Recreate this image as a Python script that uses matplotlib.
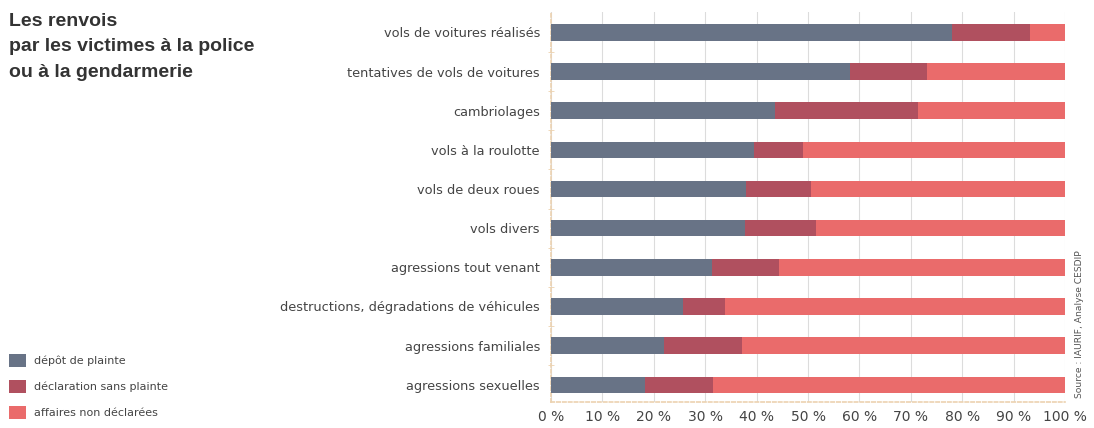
import matplotlib
matplotlib.use('Agg')
import matplotlib.pyplot as plt
import numpy as np

# Data (percent of cases)
categories = [
    'vols de voitures réalisés',
    'tentatives de vols de voitures',
    'cambriolages',
    'vols à la roulotte',
    'vols de deux roues',
    'vols divers',
    'agressions tout venant',
    'destructions, dégradations de véhicules',
    'agressions familiales',
    'agressions sexuelles',
]
depot_plainte = [78.0, 58.2, 43.5, 39.5, 37.9, 37.7, 31.4, 25.7, 21.9, 18.3]
declaration_sans_plainte = [15.2, 14.9, 27.8, 9.6, 12.6, 13.9, 13.0, 8.2, 15.2, 13.2]
non_declarees = [100 - a - b for a, b in zip(depot_plainte, declaration_sans_plainte)]

series_labels = ['dépôt de plainte', 'déclaration sans plainte', 'affaires non déclarées']
series_colors = ['#687386', '#b0505f', '#ea6b6b']
tick_values = list(range(0, 101, 10))
tick_labels = [f'{v} %' for v in tick_values]

label_font = 'DejaVu Sans'

fig = plt.figure(figsize=(10.94, 4.28), dpi=100)
ax = fig.add_axes([0.5037, 0.0607, 0.4698, 0.9113])

y = np.arange(len(categories))
left = np.zeros(len(categories))
for vals, lab, col in zip([depot_plainte, declaration_sans_plainte, non_declarees],
                          series_labels, series_colors):
    ax.barh(y, vals, left=left, height=0.42, color=col, label=lab, zorder=3)
    left += np.array(vals)

ax.set_xlim(0, 100)
ax.set_ylim(9.44, -0.52)

# Axes styling
ax.set_xticks(tick_values)
ax.set_xticklabels(tick_labels, family=label_font, fontsize=10, color='#444444')
ax.set_yticks(y)
ax.set_yticklabels(categories, family=label_font, fontsize=9.3, color='#444444')
ax.set_yticks(y[:-1] + 0.5, minor=True)
ax.tick_params(axis='y', which='major', length=0, pad=8)
ax.tick_params(axis='y', which='minor', length=5, direction='inout', color='#ecd2b0')
ax.tick_params(axis='x', which='major', length=0, pad=6)

ax.grid(axis='x', color='#dcdcdc', linewidth=0.8, zorder=0)
for side in ['top', 'right']:
    ax.spines[side].set_visible(False)
for side in ['left', 'bottom']:
    ax.spines[side].set_color('#ecd2b0')
    ax.spines[side].set_linestyle((0, (2, 1.5)))
    ax.spines[side].set_linewidth(1.2)

# Title
fig.text(0.008, 0.97, 'Les renvois\npar les victimes à la police\nou à la gendarmerie',
         ha='left', va='top', fontsize=14, fontweight='bold', color='#333333',
         family='Liberation Sans', linespacing=1.65)

# Legend
handles, labels = ax.get_legend_handles_labels()
fig.legend(handles, labels, loc='lower left', bbox_to_anchor=(0.0, 0.0),
           frameon=False, prop={'family': label_font, 'size': 8},
           handlelength=1.5, handleheight=1.45, handletextpad=0.8,
           labelspacing=1.15, labelcolor='#444444', borderpad=0.3)

# Source
fig.text(0.987, 0.07, 'Source : IAURIF, Analyse CESDIP', rotation=90,
         ha='center', va='bottom', fontsize=6.6, color='#555555', family=label_font)

fig.savefig('out.png', dpi=100)
